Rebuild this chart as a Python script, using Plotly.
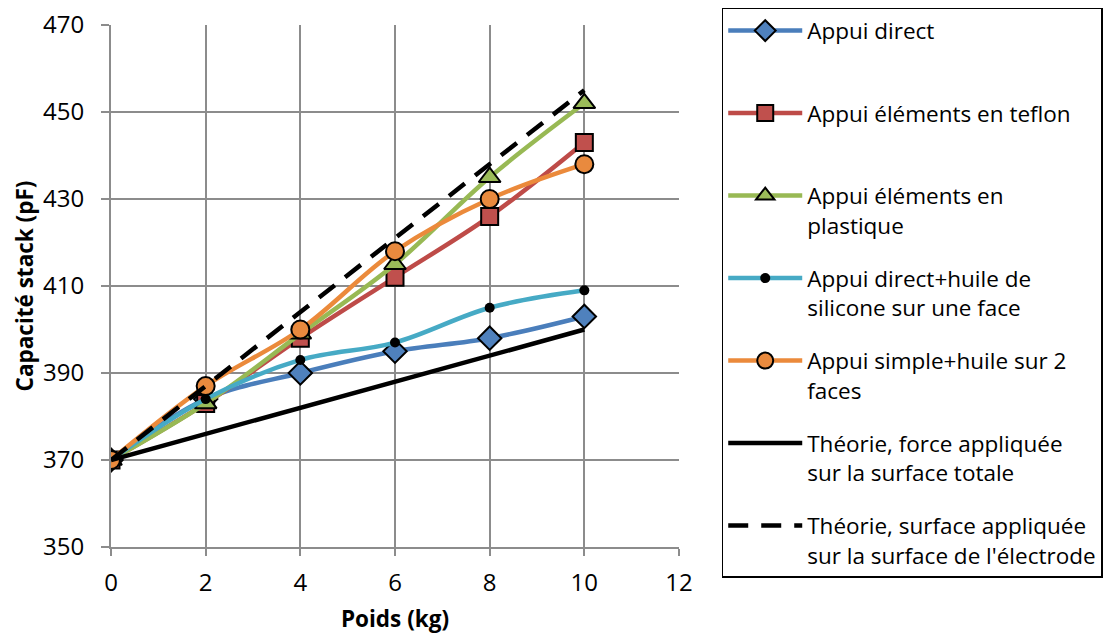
import plotly.graph_objects as go

poids = [0, 2, 4, 6, 8, 10]
appui_direct = [370, 384, 390, 395, 398, 403]
appui_teflon = [370, 383, 398, 412, 426, 443]
appui_plastique = [370, 383, 399, 415, 435, 452]
appui_huile_1face = [370, 384, 393, 397, 405, 409]
appui_huile_2faces = [370, 387, 400, 418, 430, 438]
theorie_x = [0, 10]
theorie_totale = [370, 400]
theorie_electrode = [370, 455]

x_ticks = [0, 2, 4, 6, 8, 10, 12]
y_ticks = [350, 370, 390, 410, 430, 450, 470]

names = [
    "Appui direct<br> ",
    "Appui éléments en teflon<br> ",
    "Appui éléments en<br>plastique",
    "Appui direct+huile de<br>silicone sur une face",
    "Appui simple+huile sur 2<br>faces",
    "Théorie, force appliquée<br>sur la surface totale",
    "Théorie, surface appliquée<br>sur la surface de l'électrode",
]

FONT = "Open Sans"
TICK_FS = 24
LEG_FS = 22.5
TITLE_FS = 22.5
fig = go.Figure()

series = [
    (appui_direct, "#4A7EBB", "diamond", 18, "#4F81BD", 2),
    (appui_teflon, "#BE4B48", "square", 17, "#C0504D", 2),
    (appui_plastique, "#98B954", "triangle-up", 19, "#9BBB59", 2),
    (appui_huile_1face, "#46AAC5", "circle", 10, "#000000", 0),
    (appui_huile_2faces, "#EB8A3B", "circle", 18, "#E98A3E", 2),
]
for i, (vals, lc, sym, sz, fc, bw) in enumerate(series):
    fig.add_trace(go.Scatter(
        x=poids, y=vals, name=names[i], mode="lines+markers",
        line=dict(color=lc, width=4.5, shape="spline"),
        marker=dict(symbol=sym, size=sz, color=fc, line=dict(color="#000000", width=bw)),
        legendgroup=str(i),
    ))

fig.add_trace(go.Scatter(
    x=theorie_x, y=theorie_totale, name=names[5], mode="lines",
    line=dict(color="#000000", width=4.5), legendgroup="5",
))
fig.add_trace(go.Scatter(
    x=theorie_x, y=theorie_electrode, name=names[6], mode="lines",
    line=dict(color="#000000", width=4.5, dash="20px,13px"), legendgroup="6",
))

fig.update_layout(
    width=1110, height=637,
    margin=dict(l=111, r=431, t=25, b=90, autoexpand=False),
    paper_bgcolor="white", plot_bgcolor="white",
    font=dict(family=FONT, size=TICK_FS, color="#000000"),
    showlegend=True,
    legend=dict(
        x=1.746, y=1.0326, xanchor="right", yanchor="top",
        bordercolor="#000000", borderwidth=1.5, bgcolor="white",
        font=dict(family=FONT, size=LEG_FS, color="#000000"),
        tracegroupgap=21, valign="top", itemwidth=74, maxheight=630,
    ),
    xaxis=dict(
        range=[0, 12], tickmode="array", tickvals=x_ticks,
        showgrid=True, gridcolor="#8C8C8C", gridwidth=2,
        showline=True, linecolor="#8C8C8C", linewidth=2,
        ticks="outside", ticklen=7, tickcolor="#8C8C8C", tickwidth=2,
        zeroline=False, automargin=False, ticklabelstandoff=6,
        title=dict(text="<b>Poids (kg)</b>", font=dict(family=FONT, size=TITLE_FS), standoff=14),
        tickfont=dict(family=FONT, size=TICK_FS),
    ),
    yaxis=dict(
        range=[350, 470], tickmode="array", tickvals=y_ticks,
        showgrid=True, gridcolor="#8C8C8C", gridwidth=2,
        showline=True, linecolor="#8C8C8C", linewidth=2,
        ticks="outside", ticklen=8, tickcolor="#8C8C8C", tickwidth=2,
        zeroline=False, automargin=False, ticklabelstandoff=12,
        title=dict(text="<b>Capacité stack (pF)</b>", font=dict(family=FONT, size=TITLE_FS), standoff=3),
        tickfont=dict(family=FONT, size=TICK_FS),
    ),
)

fig.write_html(
    "out.html",
    config={"displayModeBar": False},
    post_script="document.body.style.margin='0';document.documentElement.style.overflow='hidden';",
)
